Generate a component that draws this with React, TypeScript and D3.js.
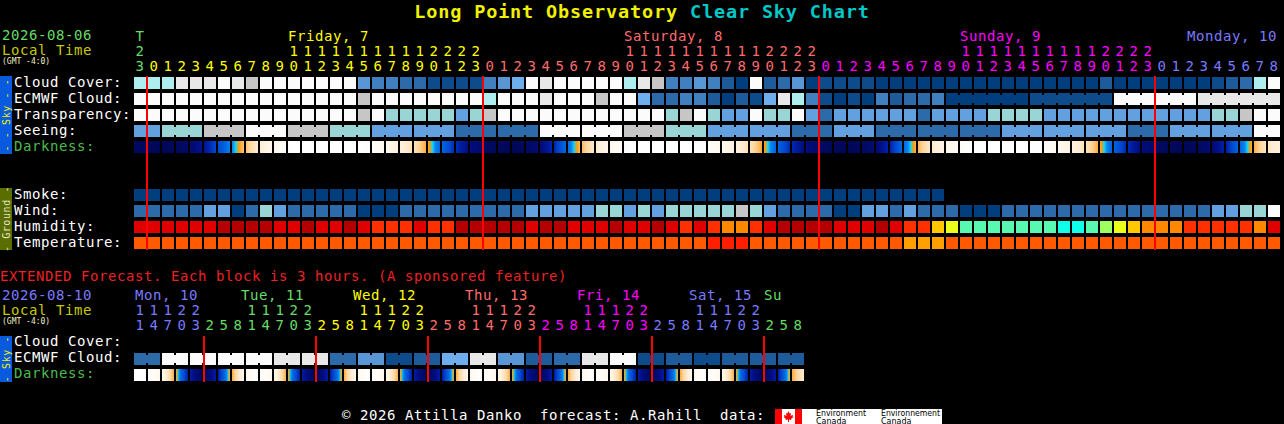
import React from 'react';
import * as d3 from 'd3';

const W = 1284;
const H = 424;
const FONT = '"DejaVu Sans Mono", "Liberation Mono", monospace';
const FS = 14; // body text size; letter spacing keeps a 9px character pitch
const LS = 0.57;

// ---------- main chart: hourly, Thu 23:00 .. Mon 08:00 ----------
const firstHour = 23;
const dayLabels = ['T', 'Friday, 7', 'Saturday, 8', 'Sunday, 9', 'Monday, 10'];
const dayColors = ['#66dd66', '#ffff00', '#ff6c6c', '#ff00ff', '#7a7aff'];

// cloud levels 0 (clear) .. 10 (overcast)
const cloudCover = [
  7, 7, 7, 9, 9, 9, 10, 9, 8, 10,
  10, 10, 10, 10, 10, 10, 5, 4, 4, 3,
  3, 1, 1, 1, 1, 4, 5, 6, 10, 9,
  10, 10, 10, 10, 10, 7, 9, 8, 4, 4,
  5, 4, 2, 0, 10, 2, 3, 5, 0, 1,
  1, 1, 1, 0, 0, 0, 0, 0, 0, 0,
  0, 0, 0, 0, 0, 0, 0, 0, 0, 2,
  0, 0, 0, 0, 0, 0, 0, 1, 2, 3,
  7, 10,
];
const ecmwfCloud = [
  10, 10, 10, 10, 10, 10, 10, 10, 10, 10,
  10, 10, 10, 10, 10, 10, 8, 10, 10, 10,
  10, 10, 10, 10, 10, 7, 10, 10, 10, 9,
  10, 10, 10, 8, 10, 10, 6, 3, 3, 4,
  4, 2, 0, 2, 1, 6, 9, 7, 4, 1,
  0, 1, 0, 4, 2, 3, 3, 4, 0, 0,
  0, 0, 0, 0, 1, 1, 1, 1, 1, 1,
  10, 10, 10, 10, 10, 10, 9, 9, 9, 9,
  9, 9,
];
const ecmwfJoinFrom = 58; // 6-hourly model output from here on
const ecmwfJoinSpan = 6;
// 0 transparent .. 4 poor, 5 too cloudy
const transparency = [
  5, 5, 5, 5, 5, 5, 5, 5, 5, 5,
  5, 5, 5, 5, 5, 5, 4, 5, 3, 3,
  3, 3, 3, 2, 3, 4, 5, 5, 5, 5,
  5, 5, 5, 5, 5, 5, 5, 5, 3, 4,
  5, 3, 2, 2, 5, 3, 3, 5, 2, 1,
  2, 2, 2, 2, 2, 2, 1, 2, 2, 2,
  2, 3, 3, 3, 3, 2, 2, 2, 2, 2,
  2, 2, 2, 2, 2, 2, 2, 3, 3, 4,
  5, 5,
];
// seeing, one value per 3 hours (first block covers 2 hours)
const seeing3h = [2, 3, 4, 5, 4, 3, 2, 2, 1, 1, 5, 5, 4, 3, 2, 2, 1, 2, 1, 1, 1, 2, 2, 2, 1, 2, 2, 5];
// darkness: negative = daylight, positive = darker sky
const darkness = [
  5.6,
  5.8, 5.8, 5.6, 4.8, 3.3, 1.6, 0.1, -1.4, -2.6, -3.4,
  -4, -4, -4, -4, -4, -4, -3.4, -2.7, -2.0, -1.0,
  0.5, 2.4, 3.9, 5.0,
  5.6, 5.8, 5.8, 5.4, 4.4, 2.3, 0.3, -1.3, -2.5, -3.3,
  -4, -4, -4, -4, -4, -4, -3.4, -2.7, -2.0, -1.0,
  0.6, 2.5, 4.0, 5.1,
  5.6, 5.8, 5.8, 5.4, 4.5, 2.4, 0.4, -1.2, -2.4, -3.2,
  -4, -4, -4, -4, -4, -4, -3.5, -2.8, -2.1, -1.1,
  0.6, 2.5, 4.0, 5.1,
  5.6, 5.8, 5.8, 5.4, 4.6, 2.5, 0.5, -1.1, -2.3,
];
const smoke = [
  0, 0, 0, 0, 0, 0, 0, 0, 0, 0,
  0, 0, 0, 0, 0, 0, 0, 0, 0, 0,
  0, 0, 0, 0, 0, 0, 0, 0, 0, 0,
  0, 0, 0, 0, 0, 0, 0, 0, 0, 0,
  0, 0, 0, 0, 0, 0, 0, 0, 0, 0,
  0, 0, 0, 0, 0, 0, 0, 0,
];
const wind = [
  1, 1, 1, 1, 1, 2, 2, 0, 1, 3,
  2, 1, 1, 1, 1, 1, 0, 0, 0, 1,
  1, 1, 1, 1, 1, 1, 1, 1, 2, 2,
  2, 2, 2, 3, 3, 2, 3, 2, 3, 3,
  3, 3, 3, 4, 3, 2, 1, 1, 1, 1,
  0, 0, 2, 2, 1, 2, 1, 1, 1, 0,
  0, 0, 1, 1, 1, 1, 1, 1, 1, 1,
  1, 1, 1, 1, 1, 1, 1, 2, 2, 3,
  3, 5,
];
const humidity = [
  93, 93, 93, 93, 93, 93, 98, 98, 98, 98,
  93, 93, 98, 93, 93, 98, 93, 88, 88, 88,
  93, 88, 88, 98, 98, 98, 98, 98, 93, 98,
  98, 93, 93, 93, 98, 93, 93, 98, 93, 88,
  93, 88, 83, 83, 88, 93, 98, 98, 98, 98,
  93, 93, 93, 98, 93, 88, 88, 78, 73, 63,
  63, 63, 63, 63, 63, 63, 58, 58, 63, 68,
  73, 78, 83, 83, 83, 88, 88, 88, 88, 88,
  83, 93,
];
const temperature = [
  22, 22, 22, 22, 22, 22, 22, 22, 22, 22,
  22, 22, 22, 22, 22, 22, 22, 22, 22, 22,
  22, 22, 22, 22, 22, 22, 22, 22, 22, 22,
  22, 22, 22, 22, 22, 22, 22, 22, 22, 22,
  22, 25, 25, 25, 22, 22, 22, 22, 22, 22,
  22, 22, 22, 22, 22, 19, 19, 19, 22, 22,
  22, 22, 22, 22, 22, 22, 22, 22, 22, 22,
  22, 22, 22, 22, 22, 22, 22, 22, 22, 22,
  22, 22,
];

// ---------- extended forecast: 3-hour blocks ----------
const extFirstHour = 11;
const extDayLabels = ['Mon, 10', 'Tue, 11', 'Wed, 12', 'Thu, 13', 'Fri, 14', 'Sat, 15', 'Su'];
const extDayColors = ['#7a7aff', '#66dd66', '#ffff00', '#ff6c6c', '#ff00ff', '#7a7aff', '#66dd66'];
const extEcmwf = [
  3, 3, 10, 10, 10, 10, 10, 10, 10, 10,
  9, 9, 9, 9, 3, 3, 5, 5, 1, 1,
  2, 2, 6, 6, 9, 9, 5, 5, 2, 2,
  3, 3, 9, 9, 10, 10, 1, 1, 2, 2,
  1, 1, 2, 2, 2, 2, 2, 2,
];
const extDarkness = [
  -4, -4, -2, 1.5, 5.8,
  5.8, 1.5, -2, -4, -4, -2, 1.5, 5.8,
  5.8, 1.5, -2, -4, -4, -2, 1.5, 5.8,
  5.8, 1.5, -2, -4, -4, -2, 1.5, 5.8,
  5.8, 1.5, -2, -4, -4, -2, 1.5, 5.8,
  5.8, 1.5, -2, -4, -4, -2, 1.5, 5.8,
  5.8, 1.5, -2,
];

// ---------- colour scales ----------
const cloudColor = d3.scaleOrdinal<number, string>()
  .domain(d3.range(11))
  .range(['#003e7e', '#0d4b8b', '#1d5b9b', '#2c6aaa', '#4080c0', '#5896d6', '#6eaeee', '#aeeeee', '#c6c6c6', '#e8e8e8', '#fbfbfb']);
const levelColor = d3.scaleOrdinal<number, string>()
  .domain(d3.range(6))
  .range(['#003e7e', '#2c6aaa', '#63a0e0', '#99d5d5', '#c6c6c6', '#fbfbfb']);
const humidityColor = d3.scaleThreshold<number, string>()
  .domain([60, 65, 70, 75, 80, 85, 90, 95])
  .range(['#10ffe8', '#58f8b0', '#a0ff60', '#eaff1a', '#ffc800', '#ff8800', '#ff3000', '#e00000', '#b40000']);
const tempColor = d3.scaleThreshold<number, string>()
  .domain([21, 24])
  .range(['#ffa000', '#ff5a00', '#ff1e00']);
const darkColor = d3.scaleLinear<string>()
  .domain([-4, -3, -2, -1, -0.4, 0, 0.35, 0.8, 1.5, 2.5, 3.5, 4.5, 5.5, 6.5])
  .range(['#ffffff', '#fff8ee', '#ffedd4', '#ffd69c', '#ffb454', '#ff9a00', '#18d8f0', '#0a84f0', '#0064e0', '#0048d0', '#0020a8', '#000c82', '#000a60', '#00004a'])
  .clamp(true);

const STEP = 14;
const CELL = 12;
const x = d3.scaleBand<number>()
  .domain(d3.range(cloudCover.length))
  .range([134, 134 + cloudCover.length * STEP - 2])
  .paddingInner(2 / STEP)
  .paddingOuter(0);
const xe = d3.scaleBand<number>()
  .domain(d3.range(extEcmwf.length))
  .range([134, 134 + extEcmwf.length * STEP - 2])
  .paddingInner(2 / STEP)
  .paddingOuter(0);

type Band = d3.ScaleBand<number>;

const Cells = ({ values, sx, y, fill, group }: {
  values: number[]; sx: Band; y: number; fill: (v: number) => string; group?: (i: number) => number | null;
}) => {
  const bw = sx.bandwidth();
  return (
    <g>
      {values.map((v, i) => <rect key={i} x={sx(i)} y={y} width={bw} height={CELL} fill={fill(v)} />)}
      {group && values.map((v, i) => {
        if (i >= values.length - 1) return null;
        const g = group(i);
        if (g === null || g !== group(i + 1)) return null;
        return <rect key={'j' + i} x={(sx(i) as number) + bw} y={y + 2} width={sx.step() - bw} height={CELL - 4} fill={fill(v)} />;
      })}
    </g>
  );
};

const DarkCells = ({ values, sx, y, id }: { values: number[]; sx: Band; y: number; id: string }) => {
  const n = values.length;
  return (
    <g>
      <defs>
        {values.map((v, i) => {
          const a = (values[Math.max(0, i - 1)] + v) / 2;
          const b = (v + values[Math.min(n - 1, i + 1)]) / 2;
          return (
            <linearGradient key={i} id={`${id}${i}`}>
              {d3.range(17).map(k => <stop key={k} offset={k / 16} stopColor={darkColor(a + (b - a) * k / 16)} />)}
            </linearGradient>
          );
        })}
      </defs>
      {values.map((v, i) => <rect key={i} x={sx(i)} y={y} width={sx.bandwidth()} height={CELL} fill={`url(#${id}${i})`} />)}
    </g>
  );
};

const Label = ({ y, text, color = '#ffffff' }: { y: number; text: string; color?: string }) => (
  <text x={14} y={y} fill={color}>{text}</text>
);

const SideBar = ({ y, h, color, text, textColor }: { y: number; h: number; color: string; text: string; textColor: string }) => (
  <g>
    <rect x={0} y={y} width={12} height={h} fill={color} />
    <text transform={`translate(9.5,${y + h / 2}) rotate(-90)`} textAnchor="middle" fontSize={10} letterSpacing={0.6}
      fill={textColor} style={{ whiteSpace: 'pre' }}>{text}</text>
  </g>
);

export default function App() {
  const nMain = cloudCover.length;
  const hours = d3.range(nMain).map(i => (firstHour + i) % 24);
  const dayOf = (i: number) => Math.floor((firstHour + i) / 24);
  const extHours = d3.range(extEcmwf.length).map(i => (extFirstHour + 3 * i) % 24);
  const extDayOf = (i: number) => Math.floor((extFirstHour + 3 * i) / 24);
  const seeingCols = d3.range(nMain).map(i => seeing3h[Math.floor((i + 1) / 3)]);

  const sky = [77, 93, 109, 125, 141];
  const ground = [189, 205, 221, 237];
  const midnights = d3.range(1, nMain).filter(i => hours[i] === 0);
  const extMidnights = d3.range(1, extEcmwf.length).filter(i => extDayOf(i) !== extDayOf(i - 1));
  const extDayStart = (d: number) => extMidnights[d - 1];
  const cx = (i: number) => (x(i) as number) + CELL / 2;
  const cxe = (i: number) => (xe(i) as number) + CELL / 2;

  return (
    <svg width={W} height={H} viewBox={`0 0 ${W} ${H}`} fontFamily={FONT} fontSize={FS} letterSpacing={LS}
      style={{ position: 'absolute', left: 0, top: 0, display: 'block' }}>
      <rect width={W} height={H} fill="#000" />

      {/* title */}
      <text x={642} y={17.5} textAnchor="middle" fontSize={18.5} letterSpacing={0.85} fontWeight="bold">
        <tspan fill="#f0f000">Long Point Observatory</tspan>
        <tspan fill="#00c8c8"> Clear Sky Chart</tspan>
      </text>

      {/* left header */}
      <text x={2} y={40} fill={dayColors[0]}>2026-08-06</text>
      <text x={2} y={55} fill="#c8c800">Local Time</text>
      <text x={2} y={64} fontSize={8} letterSpacing={0} fill="#f0f0c0">(GMT -4:0)</text>

      {/* day labels and hour digits */}
      <text x={cx(0)} y={41} textAnchor="middle" fill={dayColors[0]}>{dayLabels[0]}</text>
      {midnights.slice(0, 3).map((m, k) => (
        <text key={k} x={x(m + 10)} y={41} fill={dayColors[k + 1]}>{dayLabels[k + 1]}</text>
      ))}
      <text x={1277} y={41} textAnchor="end" fill={dayColors[4]}>{dayLabels[4]}</text>
      {hours.map((h, i) => (
        <g key={i} fill={dayColors[dayOf(i)]} textAnchor="middle">
          {h >= 10 && <text x={cx(i)} y={56}>{Math.floor(h / 10)}</text>}
          <text x={cx(i)} y={71}>{h % 10}</text>
        </g>
      ))}

      {/* sky rows */}
      <SideBar y={76} h={78} color="#0a5ae0" text="- - Sky - -" textColor="#f0f000" />
      <Label y={sky[0] + 10} text="Cloud Cover:" />
      <Label y={sky[1] + 10} text="ECMWF Cloud:" />
      <Label y={sky[2] + 10} text="Transparency:" />
      <Label y={sky[3] + 10} text="Seeing:" />
      <Label y={sky[4] + 10} text="Darkness:" color="#4cbb4c" />
      <Cells values={cloudCover} sx={x} y={sky[0]} fill={cloudColor} />
      <Cells values={ecmwfCloud} sx={x} y={sky[1]} fill={cloudColor}
        group={i => (i >= ecmwfJoinFrom ? Math.floor((i - ecmwfJoinFrom) / ecmwfJoinSpan) : null)} />
      <Cells values={transparency} sx={x} y={sky[2]} fill={levelColor} />
      <Cells values={seeingCols} sx={x} y={sky[3]} fill={levelColor} group={i => Math.floor((i + 1) / 3)} />
      <DarkCells values={darkness} sx={x} y={sky[4]} id="dkm" />

      {/* ground rows */}
      <SideBar y={188} h={62} color="#5a6e00" text="- Ground -" textColor="#e6e6c8" />
      <Label y={ground[0] + 10} text="Smoke:" />
      <Label y={ground[1] + 10} text="Wind:" />
      <Label y={ground[2] + 10} text="Humidity:" />
      <Label y={ground[3] + 10} text="Temperature:" />
      <Cells values={smoke} sx={x} y={ground[0]} fill={levelColor} />
      <Cells values={wind} sx={x} y={ground[1]} fill={levelColor} />
      <Cells values={humidity} sx={x} y={ground[2]} fill={humidityColor} />
      <Cells values={temperature} sx={x} y={ground[3]} fill={tempColor} />

      {midnights.map(m => (
        <rect key={m} x={(x(m) as number) - 2} y={76} width={2} height={174} fill="#ff0000" />
      ))}

      {/* extended forecast */}
      <text x={0} y={281} fill="#ee2222" style={{ whiteSpace: 'pre' }}>
        EXTENDED Forecast. Each block is 3 hours. (A sponsored feature)
      </text>
      <text x={2} y={300} fill={extDayColors[0]}>2026-08-10</text>
      <text x={2} y={315} fill="#c8c800">Local Time</text>
      <text x={2} y={324} fontSize={8} letterSpacing={0} fill="#f0f0c0">(GMT -4:0)</text>
      {extDayLabels.map((lab, d) => {
        const lx = d === 0 ? (xe(0) as number) + 1
          : d === extDayLabels.length - 1 ? (xe(extDayStart(d)) as number)
          : (xe(extDayStart(d) + 3) as number) - 5;
        return <text key={d} x={lx} y={300} fill={extDayColors[d]}>{lab}</text>;
      })}
      {extHours.map((h, i) => (
        <g key={i} fill={extDayColors[extDayOf(i)]} textAnchor="middle">
          {h >= 10 && <text x={cxe(i)} y={315}>{Math.floor(h / 10)}</text>}
          <text x={cxe(i)} y={330}>{h % 10}</text>
        </g>
      ))}
      <SideBar y={336} h={46} color="#0a5ae0" text="- Sky -" textColor="#f0f000" />
      <Label y={346} text="Cloud Cover:" />
      <Label y={362} text="ECMWF Cloud:" />
      <Label y={378} text="Darkness:" color="#4cbb4c" />
      <Cells values={extEcmwf} sx={xe} y={353} fill={cloudColor} group={i => Math.floor(i / 2)} />
      <DarkCells values={extDarkness} sx={xe} y={369} id="dke" />
      {extMidnights.map(m => (
        <rect key={m} x={(xe(m) as number) - 1} y={336} width={2} height={46} fill="#ff0000" />
      ))}

      {/* footer */}
      <text x={342} y={420} fill="#ffffff" style={{ whiteSpace: 'pre' }}>
        © 2026 Attilla Danko  forecast: A.Rahill  data:
      </text>
      <g>
        <rect x={775} y={409} width={167} height={15} fill="#ffffff" />
        <rect x={775} y={409} width={7} height={15} fill="#ff0000" />
        <rect x={795} y={409} width={7} height={15} fill="#ff0000" />
        <polygon fill="#ff0000" transform="translate(788.5,416.5)"
          points="0,-5.5 1.2,-3 2.5,-3.5 2,-0.5 4.5,-2 4,0 5,0.5 2.5,2.5 3,3.5 0.5,3 0.5,5.5 -0.5,5.5 -0.5,3 -3,3.5 -2.5,2.5 -5,0.5 -4,0 -4.5,-2 -2,-0.5 -2.5,-3.5 -1.2,-3" />
        <g fontFamily='"DejaVu Sans", sans-serif' fontSize={8} letterSpacing={0} fill="#000">
          <text x={816} y={416} textLength={50} lengthAdjust="spacingAndGlyphs">Environment</text>
          <text x={816} y={423.5}>Canada</text>
          <text x={881} y={416} textLength={59} lengthAdjust="spacingAndGlyphs">Environnement</text>
          <text x={881} y={423.5}>Canada</text>
        </g>
      </g>
    </svg>
  );
}
